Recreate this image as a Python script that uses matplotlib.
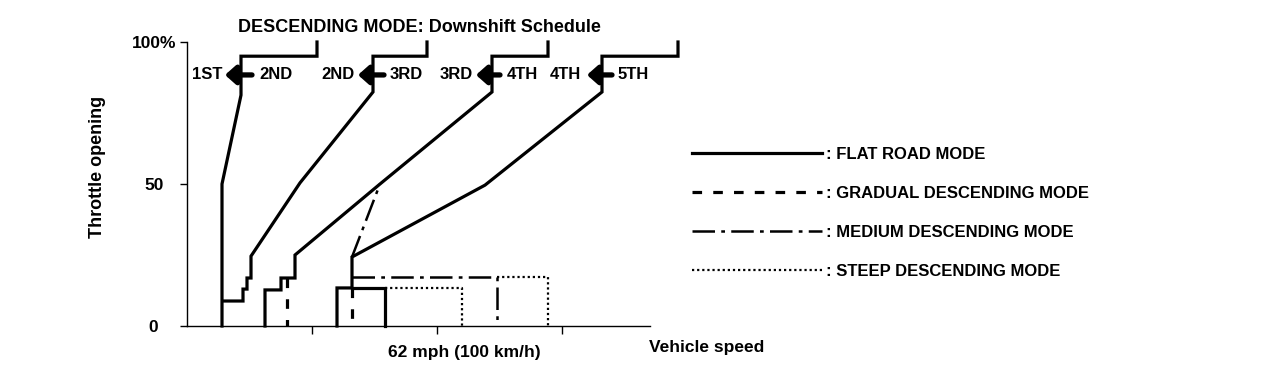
import matplotlib.pyplot as plt

plt.rcParams["font.family"] = ["Liberation Sans", "DejaVu Sans"]
plt.rcParams["font.weight"] = "bold"

# speed axis in km/h, throttle opening in %
# flat road mode downshift lines
flat_1st_x = [14, 14, 21.6, 21.6, 52, 52]
flat_1st_y = [0, 50, 81.3, 95, 95, 100]
flat_2nd_x = [14.4, 22.4, 22.4, 24, 24, 25.6, 25.6, 45.2, 74.4, 74.4, 96, 96]
flat_2nd_y = [8.8, 8.8, 13, 13, 16.9, 16.9, 24.6, 50.4, 82.4, 95, 95, 100]
flat_3rd_x = [31.2, 31.2, 37.6, 37.6, 43.2, 43.2, 77.2, 122, 122, 144.4, 144.4]
flat_3rd_y = [0, 12.7, 12.7, 16.9, 16.9, 25, 50, 82.4, 95, 95, 100]
flat_4th_x = [60, 60, 66, 66, 119.2, 166, 166, 196.4, 196.4]
flat_4th_y = [0, 13.4, 13.4, 24.3, 49.6, 82.4, 95, 95, 100]
flat_box_x = [66, 79.2, 79.2]
flat_box_y = [13.4, 13.4, 0]

# gradual descending mode
grad_a_x = [40, 40]
grad_a_y = [16.9, 0]
grad_b_x = [66, 66]
grad_b_y = [13.4, 0]

# medium descending mode
med_a_x = [66, 77.2]
med_a_y = [24.3, 50]
med_b_x = [66, 124, 124]
med_b_y = [17.3, 17.3, 0]

# steep descending mode
steep_a_x = [79.2, 110, 110]
steep_a_y = [13.4, 13.4, 0]
steep_b_x = [124, 144.4, 144.4]
steep_b_y = [17.3, 17.3, 0]

# gear labels: lower gear, arrow tip, arrow tail, upper gear
lower_labels = ["1ST", "2ND", "3RD", "4TH"]
upper_labels = ["2ND", "3RD", "4TH", "5TH"]
lower_x = [8.2, 60.4, 107.6, 151.2]
arrow_tip_x = [15.2, 68.4, 115.6, 160]
arrow_tail_x = [26, 78.8, 125.2, 170]
upper_x = [35.4, 87.6, 134, 178.4]
label_y = 88.4

y_ticks = [0, 50, 100]
y_tick_labels = ["0", "50", "100%"]
x_ticks = [50, 100, 150]

legend_labels = [": FLAT ROAD MODE", ": GRADUAL DESCENDING MODE",
                 ": MEDIUM DESCENDING MODE", ": STEEP DESCENDING MODE"]

solid = dict(color="black", lw=2.3, ls="-", solid_joinstyle="miter", clip_on=False)
dashed = dict(color="black", lw=2.3, ls=(0, (3, 3.5)), clip_on=False)
dashdot = dict(color="black", lw=1.8, ls=(0, (9, 2.5, 1.5, 2.5)), clip_on=False)
dotted = dict(color="black", lw=1.6, ls=(0, (1, 1.3)), clip_on=False)

fig = plt.figure(figsize=(12.8, 3.74), dpi=100)
ax = fig.add_axes([187 / 1280, 48 / 374, 500 / 1280, 284 / 374])

h_flat, = ax.plot(flat_1st_x, flat_1st_y, **solid)
ax.plot(flat_2nd_x, flat_2nd_y, **solid)
ax.plot(flat_3rd_x, flat_3rd_y, **solid)
ax.plot(flat_4th_x, flat_4th_y, **solid)
ax.plot(flat_box_x, flat_box_y, **solid)

h_grad, = ax.plot(grad_a_x, grad_a_y, **dashed)
ax.plot(grad_b_x, grad_b_y, **dashed)

h_med, = ax.plot(med_a_x, med_a_y, **dashdot)
ax.plot(med_b_x, med_b_y, **dashdot)

h_steep, = ax.plot(steep_a_x, steep_a_y, **dotted)
ax.plot(steep_b_x, steep_b_y, **dotted)

for lo, up, lx, tip, tail, ux in zip(lower_labels, upper_labels, lower_x,
                                     arrow_tip_x, arrow_tail_x, upper_x):
    ax.text(lx, label_y, lo, ha="center", va="center", fontsize=12, fontweight="bold")
    ax.text(ux, label_y, up, ha="center", va="center", fontsize=12, fontweight="bold")
    ax.annotate("", xy=(tip, label_y), xytext=(tail, label_y),
                arrowprops=dict(arrowstyle="-|>,head_width=0.4,head_length=0.45",
                                lw=3.8, color="black", shrinkA=0, shrinkB=0,
                                mutation_scale=14))

ax.text(92.8, 105, "DESCENDING MODE: Downshift Schedule", ha="center", va="center",
        fontsize=13, fontweight="bold", clip_on=False)

ax.set_xlim(0, 200)
ax.set_ylim(0, 100)
ax.spines["top"].set_visible(False)
ax.spines["right"].set_visible(False)
ax.spines["bottom"].set_bounds(0, 185)
ax.spines["left"].set_bounds(0, 100)
for s in ("left", "bottom"):
    ax.spines[s].set_linewidth(1.0)

ax.set_yticks(y_ticks)
ax.set_yticklabels(y_tick_labels, fontsize=12.5, fontweight="bold", ha="center")
ax.tick_params(axis="y", direction="out", length=5, width=1, pad=19)
ax.set_xticks(x_ticks)
ax.set_xticklabels([])
ax.tick_params(axis="x", direction="out", length=6, width=1)

ax.set_ylabel("Throttle opening", fontsize=13, fontweight="bold")
ax.yaxis.set_label_coords(-0.162, 0.56)

ax.text(111, -9.5, "62 mph (100 km/h)", ha="center", va="center",
        fontsize=12.5, fontweight="bold", clip_on=False)
ax.text(208, -7.5, "Vehicle speed", ha="center", va="center",
        fontsize=12.5, fontweight="bold", clip_on=False)

fig.legend([h_flat, h_grad, h_med, h_steep], legend_labels,
           loc="center left", bbox_to_anchor=(692 / 1280, 161 / 374),
           frameon=False, handlelength=7.8, handletextpad=0.25,
           labelspacing=1.45, borderpad=0, borderaxespad=0,
           prop=dict(weight="bold", size=12))

fig.savefig("out.png", dpi=100, facecolor="white")
